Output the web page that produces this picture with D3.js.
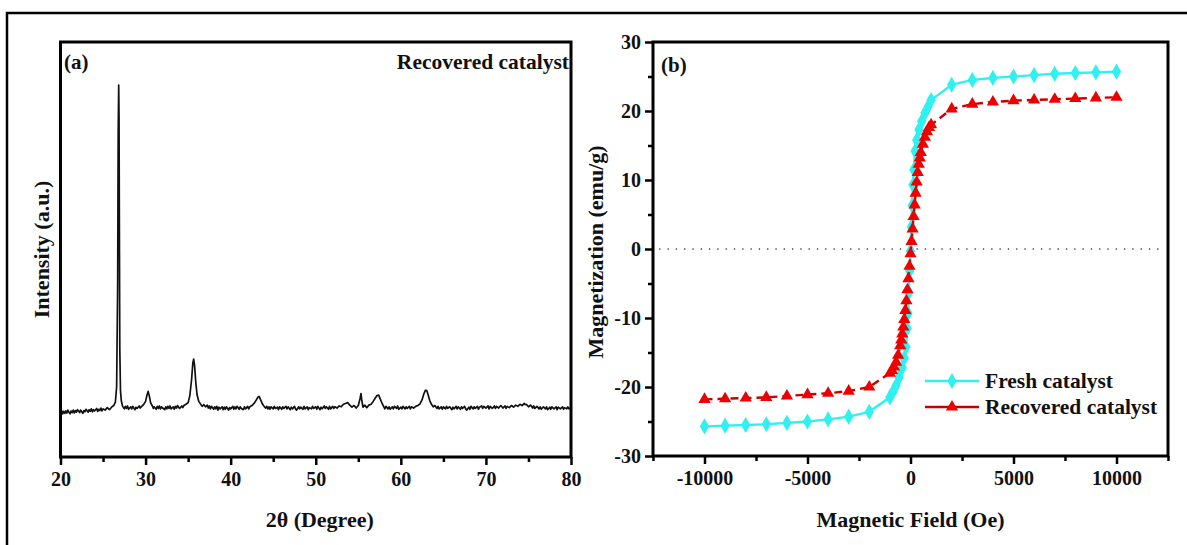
<!DOCTYPE html>
<html>
<head>
<meta charset="utf-8">
<script src="https://cdn.jsdelivr.net/npm/d3@7"></script>
<style>
  html, body { margin: 0; padding: 0; background: #fff; }
  svg { display: block; }
  text { font-family: "Liberation Serif", "Times New Roman", serif; font-weight: bold; fill: #111; }
</style>
</head>
<body>
<svg id="chart" width="1187" height="545"></svg>
<script>
// ---------- DATA ----------
// (a) XRD pattern of recovered catalyst: [2theta, intensity (a.u.)]
const xrdPattern = [
  [20.00,107],[20.12,112],[20.25,104],[20.37,110],[20.50,105],[20.62,111],[20.75,106],[20.87,113],
  [21.00,108],[21.12,104],[21.25,111],[21.37,107],[21.50,113],[21.62,106],[21.75,112],[21.87,108],
  [22.00,114],[22.25,107],[22.37,113],[22.50,109],[22.62,105],[22.75,112],[22.87,109],[23.00,115],
  [23.25,108],[23.37,114],[23.50,110],[23.62,116],[23.75,109],[23.87,114],[24.00,111],[24.25,117],
  [24.37,110],[24.50,115],[24.62,112],[24.75,118],[24.87,111],[25.00,116],[25.25,113],[25.50,119],
  [25.75,114],[26.00,120],[26.25,124],[26.45,132],[26.60,170],[26.72,420],[26.78,780],[26.84,896],
  [26.88,820],[26.92,560],[26.97,260],[27.05,160],[27.15,135],[27.30,122],[27.50,116],[27.62,122],
  [27.75,117],[27.87,123],[28.00,115],[28.25,121],[28.37,116],[28.50,122],[28.75,114],[28.87,120],
  [29.00,117],[29.25,123],[29.37,118],[29.50,121],[29.75,126],[30.00,134],[30.15,148],[30.30,158],
  [30.45,146],[30.60,130],[30.80,123],[30.92,117],[31.00,121],[31.25,115],[31.37,122],[31.50,117],
  [31.62,123],[31.75,116],[31.87,121],[32.00,118],[32.25,114],[32.37,121],[32.50,116],[32.62,122],
  [32.75,117],[32.87,123],[33.00,116],[33.25,121],[33.37,115],[33.50,122],[33.62,118],[33.75,124],
  [34.00,117],[34.25,123],[34.37,119],[34.50,124],[34.75,127],[35.00,131],[35.20,148],[35.40,185],
  [35.55,226],[35.65,236],[35.75,222],[35.90,180],[36.05,150],[36.25,134],[36.45,128],[36.65,122],
  [36.85,126],[37.05,121],[37.25,125],[37.37,118],[37.50,123],[37.62,116],[37.75,122],[38.00,115],
  [38.12,121],[38.25,116],[38.37,122],[38.50,113],[38.62,120],[38.75,116],[39.00,121],[39.12,114],
  [39.25,120],[39.37,115],[39.50,121],[39.75,113],[39.87,119],[40.00,116],[40.25,122],[40.37,115],
  [40.50,121],[40.62,116],[40.75,122],[41.00,115],[41.12,121],[41.25,117],[41.50,114],[41.62,121],
  [41.75,116],[42.00,122],[42.12,116],[42.25,121],[42.50,124],[42.75,129],[43.00,137],[43.20,144],
  [43.35,146],[43.50,139],[43.70,129],[43.90,123],[44.10,118],[44.25,122],[44.37,116],[44.50,121],
  [44.62,115],[44.75,121],[45.00,116],[45.12,122],[45.25,117],[45.50,120],[45.62,114],[45.75,121],
  [46.00,115],[46.12,121],[46.25,117],[46.50,122],[46.62,116],[46.75,121],[47.00,114],[47.12,120],
  [47.25,116],[47.50,122],[47.62,116],[47.75,113],[48.00,121],[48.12,116],[48.25,120],[48.50,115],
  [48.62,122],[48.75,116],[49.00,121],[49.12,114],[49.25,119],[49.50,116],[49.62,122],[49.75,117],
  [50.00,121],[50.12,115],[50.25,122],[50.50,114],[50.62,120],[50.75,116],[51.00,123],[51.12,117],
  [51.25,121],[51.50,115],[51.62,122],[51.75,116],[52.00,122],[52.12,117],[52.25,121],[52.50,118],
  [52.75,123],[53.00,121],[53.25,127],[53.50,129],[53.75,131],[54.00,125],[54.25,120],[54.50,124],
  [54.75,118],[55.00,124],[55.20,140],[55.32,153],[55.42,135],[55.55,120],[55.75,125],[56.00,119],
  [56.25,125],[56.50,127],[56.75,134],[57.00,142],[57.20,148],[57.40,149],[57.60,139],[57.80,129],
  [58.00,121],[58.12,116],[58.25,122],[58.50,116],[58.62,121],[58.75,115],[59.00,121],[59.12,116],
  [59.25,122],[59.50,117],[59.62,123],[59.75,115],[60.00,120],[60.12,116],[60.25,122],[60.50,116],
  [60.62,121],[60.75,117],[61.00,122],[61.12,116],[61.25,121],[61.50,118],[61.75,122],[62.00,124],
  [62.25,128],[62.50,138],[62.70,152],[62.90,161],[63.05,160],[63.20,150],[63.40,136],[63.60,127],
  [63.80,121],[64.00,124],[64.25,117],[64.37,122],[64.50,116],[64.75,121],[64.87,115],[65.00,121],
  [65.25,116],[65.37,122],[65.50,117],[65.75,121],[66.00,114],[66.12,120],[66.25,116],[66.50,122],
  [66.62,116],[66.75,121],[67.00,115],[67.12,121],[67.25,117],[67.50,122],[67.62,116],[67.75,113],
  [68.00,120],[68.12,115],[68.25,122],[68.50,116],[68.62,121],[68.75,117],[69.00,122],[69.12,115],
  [69.25,120],[69.50,123],[69.62,117],[69.75,122],[70.00,118],[70.25,123],[70.37,116],[70.50,122],
  [70.75,117],[71.00,123],[71.12,117],[71.25,122],[71.50,118],[71.75,124],[72.00,118],[72.25,123],
  [72.37,117],[72.50,122],[72.75,119],[73.00,124],[73.25,120],[73.50,125],[73.75,122],[74.00,127],
  [74.25,124],[74.50,129],[74.62,126],[74.75,127],[75.00,121],[75.25,125],[75.50,118],[75.62,123],
  [75.75,117],[76.00,122],[76.25,116],[76.37,121],[76.50,115],[76.75,121],[77.00,116],[77.12,121],
  [77.25,114],[77.50,120],[77.62,115],[77.75,121],[78.00,116],[78.25,121],[78.37,114],[78.50,120],
  [78.75,116],[79.00,121],[79.12,115],[79.25,119],[79.50,116],[79.62,121],[79.75,116],[80.00,119]
];
const xrdTicks = [20, 30, 40, 50, 60, 70, 80];
const xrdMinorTicks = [25, 35, 45, 55, 65, 75];

// (b) Magnetization curves: field (Oe) and magnetization (emu/g)
const freshField = [-10000,-9000,-8000,-7000,-6000,-5000,-4000,-3000,-2000,-1000,-850,-700,-550,-400,-300,-220,-160,-120,-80,-40,0,40,80,120,160,220,300,410,540,700,850,1000,2000,3000,4000,5000,6000,7000,8000,9000,10000];
const freshMag   = [-25.7,-25.6,-25.5,-25.4,-25.2,-25.0,-24.7,-24.3,-23.6,-21.5,-20.7,-19.8,-18.6,-17.2,-15.8,-14.2,-11.5,-9.3,-6.3,-3.2,-0.3,3.2,6.3,9.3,11.5,14.2,15.8,17.3,18.5,19.7,20.6,21.6,23.8,24.5,24.8,25.0,25.2,25.4,25.5,25.6,25.7];
const recoveredField = [-10000,-9000,-8000,-7000,-6000,-5000,-4000,-3000,-2000,-1000,-900,-800,-700,-600,-500,-450,-400,-350,-300,-250,-200,-150,-100,-50,0,50,100,150,200,250,300,350,400,450,500,600,700,800,900,1000,2000,3000,4000,5000,6000,7000,8000,9000,10000];
const recoveredMag   = [-21.8,-21.7,-21.6,-21.5,-21.3,-21.1,-20.9,-20.6,-20.0,-18.0,-17.6,-17.1,-16.4,-15.4,-14.0,-13.2,-12.3,-11.3,-10.2,-8.9,-7.5,-5.9,-4.3,-2.5,-0.7,1.1,2.9,4.7,6.4,8.1,9.7,11.1,12.3,13.2,14.0,15.2,16.2,17.0,17.6,18.0,20.3,21.0,21.3,21.5,21.6,21.7,21.8,21.9,22.0];
const fieldTicks = [-10000, -5000, 0, 5000, 10000];
const fieldMinorTicks = [-12500, -7500, -2500, 2500, 7500, 12500];
const magTicks = [-30, -20, -10, 0, 10, 20, 30];
const magMinorTicks = [-25, -15, -5, 5, 15, 25];
const seriesNames = ["Fresh catalyst", "Recovered catalyst"];

// ---------- DRAW ----------
const svg = d3.select("#chart");
svg.append("rect").attr("width", 1187).attr("height", 545).attr("fill", "#fff");
// outer frame
svg.append("rect").attr("x", 7).attr("y", 13).attr("width", 1200).attr("height", 600)
  .attr("fill", "none").attr("stroke", "#000").attr("stroke-width", 2.5);

const FONT = 20;
const TFONT = 22;
const plainFmt = d => String(d);

function styleAxis(g) {
  g.select(".domain").remove();
  g.selectAll(".tick line").attr("stroke", "#000").attr("stroke-width", 2.5);
  g.selectAll(".tick text").attr("font-size", FONT).attr("fill", "#111")
    .style("font-family", '"Liberation Serif", serif').style("font-weight", "bold");
}

// ----- Panel (a) -----
const A = { left: 60.5, right: 571, top: 42, bottom: 457 };
const xA = d3.scaleLinear().domain([20, 80]).range([A.left, A.right]);
const yA = d3.scaleLinear().domain([0, 1000]).range([A.bottom, A.top]);

svg.append("path").datum(xrdPattern)
  .attr("fill", "none").attr("stroke", "#111").attr("stroke-width", 1.7).attr("stroke-linejoin", "round")
  .attr("d", d3.line().x(d => xA(d[0])).y(d => yA(d[1])));

const gAx = svg.append("g").attr("transform", `translate(0,${A.bottom})`)
  .call(d3.axisBottom(xA).tickValues(xrdTicks).tickSize(8).tickPadding(7).tickFormat(plainFmt));
styleAxis(gAx);
const gAxm = svg.append("g").attr("transform", `translate(0,${A.bottom})`)
  .call(d3.axisBottom(xA).tickValues(xrdMinorTicks).tickSize(5).tickFormat(""));
styleAxis(gAxm);

svg.append("rect").attr("x", A.left).attr("y", A.top).attr("width", A.right - A.left).attr("height", A.bottom - A.top)
  .attr("fill", "none").attr("stroke", "#000").attr("stroke-width", 3);

svg.append("text").attr("x", 64).attr("y", 69).attr("font-size", 21).text("(a)");
svg.append("text").attr("x", 569).attr("y", 69).attr("font-size", 21.5).attr("text-anchor", "end").text("Recovered catalyst");
svg.append("text").attr("x", (A.left + A.right) / 2 + 4).attr("y", 527).attr("font-size", TFONT).attr("text-anchor", "middle").text("2θ (Degree)");
svg.append("text").attr("transform", `translate(49,${(A.top + A.bottom) / 2}) rotate(-90)`)
  .attr("font-size", TFONT).attr("text-anchor", "middle").text("Intensity (a.u.)");

// ----- Panel (b) -----
const B = { left: 653, right: 1168, top: 42, bottom: 456 };
const xB = d3.scaleLinear().domain([-12500, 12500]).range([B.left, B.right]);
const yB = d3.scaleLinear().domain([-30, 30]).range([B.bottom, B.top]);

// zero reference line
svg.append("line").attr("x1", xB(-12200)).attr("x2", xB(12200)).attr("y1", yB(0)).attr("y2", yB(0))
  .attr("stroke", "#444").attr("stroke-width", 1.3).attr("stroke-dasharray", "1.3,7");

const gBx = svg.append("g").attr("transform", `translate(0,${B.bottom})`)
  .call(d3.axisBottom(xB).tickValues(fieldTicks).tickSize(8).tickPadding(7).tickFormat(plainFmt));
styleAxis(gBx);
const gBxm = svg.append("g").attr("transform", `translate(0,${B.bottom})`)
  .call(d3.axisBottom(xB).tickValues(fieldMinorTicks).tickSize(5).tickFormat(""));
styleAxis(gBxm);
const gBy = svg.append("g").attr("transform", `translate(${B.left},0)`)
  .call(d3.axisLeft(yB).tickValues(magTicks).tickSize(8).tickPadding(4).tickFormat(plainFmt));
styleAxis(gBy);
const gBym = svg.append("g").attr("transform", `translate(${B.left},0)`)
  .call(d3.axisLeft(yB).tickValues(magMinorTicks).tickSize(5).tickFormat(""));
styleAxis(gBym);

const freshData = freshField.map((h, i) => [h, freshMag[i]]);
const recData = recoveredField.map((h, i) => [h, recoveredMag[i]]);
const lineB = d3.line().x(d => xB(d[0])).y(d => yB(d[1]));
const CYAN = "#30f0f0", RED = "#ee0000", DRED = "#c80000";

svg.append("path").datum(freshData).attr("fill", "none").attr("stroke", CYAN).attr("stroke-width", 2.4).attr("d", lineB);
const diamond = d3.symbol().type(d3.symbolDiamond).size(75);
svg.append("g").selectAll("path").data(freshData).join("path")
  .attr("transform", d => `translate(${xB(d[0])},${yB(d[1])})`).attr("d", diamond).attr("fill", CYAN);

svg.append("path").datum(recData).attr("fill", "none").attr("stroke", DRED).attr("stroke-width", 2.4)
  .attr("stroke-dasharray", "8,5").attr("d", lineB);
const tri = d3.symbol().type(d3.symbolTriangle).size(65);
svg.append("g").selectAll("path").data(recData).join("path")
  .attr("transform", d => `translate(${xB(d[0])},${yB(d[1])})`).attr("d", tri).attr("fill", RED);

svg.append("rect").attr("x", B.left).attr("y", B.top).attr("width", B.right - B.left).attr("height", B.bottom - B.top)
  .attr("fill", "none").attr("stroke", "#000").attr("stroke-width", 3);

svg.append("text").attr("x", 661).attr("y", 72).attr("font-size", 21).text("(b)");
svg.append("text").attr("x", (B.left + B.right) / 2).attr("y", 527).attr("font-size", TFONT).attr("text-anchor", "middle").text("Magnetic Field (Oe)");
svg.append("text").attr("transform", `translate(603,${(B.top + B.bottom) / 2 + 3}) rotate(-90)`)
  .attr("font-size", TFONT).attr("text-anchor", "middle").text("Magnetization (emu/g)");

// legend
const legend = svg.append("g");
const legY = [381, 407];
const legColor = [CYAN, DRED];
const legFill = [CYAN, RED];
const legSym = [diamond, tri];
seriesNames.forEach((name, i) => {
  legend.append("line").attr("x1", 925).attr("x2", 979).attr("y1", legY[i]).attr("y2", legY[i])
    .attr("stroke", legColor[i]).attr("stroke-width", 2.4);
  legend.append("path").attr("transform", `translate(952,${legY[i]})`).attr("d", legSym[i]).attr("fill", legFill[i]);
  legend.append("text").attr("x", 985).attr("y", legY[i] + 7).attr("font-size", 21.5).text(name);
});
</script>
</body>
</html>
